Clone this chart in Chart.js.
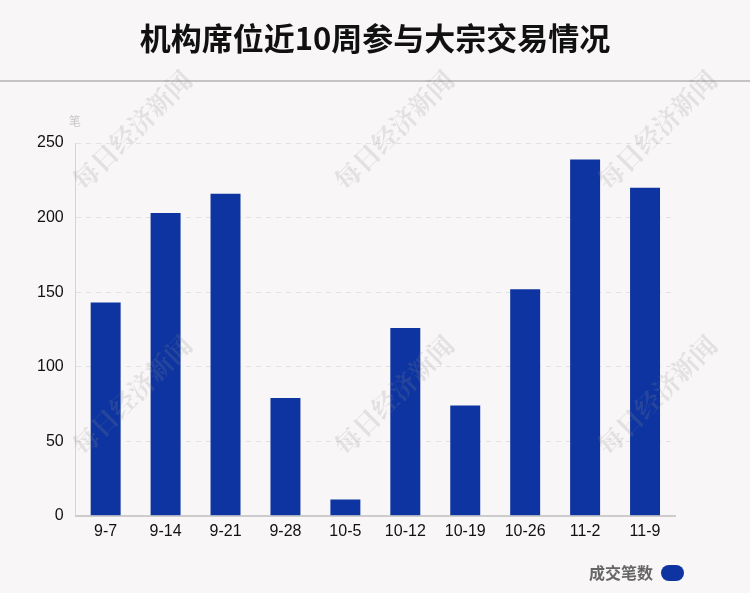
<!DOCTYPE html>
<html>
<head>
<meta charset="utf-8">
<script src="https://cdn.jsdelivr.net/npm/chart.js@4"></script>
<style>
  html, body { margin: 0; padding: 0; background: #f9f6f7; }
  #wrap { width: 750px; height: 593px; position: relative; }
</style>
</head>
<body>
<div id="wrap"><canvas id="barchart"></canvas></div>
<script>
(function() {
    "use strict";

    // data
    var weeks = ['9-7', '9-14', '9-21', '9-28', '10-5', '10-12', '10-19', '10-26', '11-2', '11-9'];
    var deals = [143, 203, 216, 79, 11, 126, 74, 152, 239, 220];
    var seriesName = '成交笔数';
    var chartTitle = '机构席位近10周参与大宗交易情况';
    var unitLabel = '笔';
    var watermark = '每日经济新闻';

    var cjk = '"Noto Sans CJK SC", sans-serif';
    var latin = '"Liberation Sans", Arial, sans-serif';

    // title, separator line, unit and watermarks
    var decor = {
        id: 'decor',
        beforeDraw: function(chart) {
            var ctx = chart.ctx;
            ctx.save();
            ctx.fillStyle = '#f9f6f7';
            ctx.fillRect(0, 0, chart.width, chart.height);

            ctx.fillStyle = '#111';
            ctx.font = 'bold 31px ' + cjk;
            ctx.textAlign = 'center';
            ctx.textBaseline = 'middle';
            ctx.fillText(chartTitle, 375, 38);

            ctx.strokeStyle = '#c4c4c4';
            ctx.lineWidth = 2;
            ctx.beginPath();
            ctx.moveTo(0, 81);
            ctx.lineTo(chart.width, 81);
            ctx.stroke();

            ctx.fillStyle = '#c8c8c8';
            ctx.font = '12px ' + cjk;
            ctx.textAlign = 'center';
            ctx.fillText(unitLabel, 75, 121);
            ctx.restore();
        },
        afterDatasetsDraw: function(chart) {
            var ctx = chart.ctx;
            var spots = [[132, 130], [394, 130], [657, 130], [132, 395], [394, 395], [657, 395]];
            ctx.save();
            ctx.fillStyle = 'rgba(140, 140, 140, 0.2)';
            ctx.font = 'bold 26px "Noto Serif CJK SC", ' + cjk;
            ctx.textAlign = 'center';
            ctx.textBaseline = 'middle';
            spots.forEach(function(p) {
                ctx.save();
                ctx.translate(p[0], p[1]);
                ctx.rotate(-Math.PI / 4);
                ctx.fillText(watermark, 0, 0);
                ctx.restore();
            });
            ctx.restore();
        }
    };

    new Chart(document.getElementById('barchart'), {
        type: 'bar',
        data: {
            labels: weeks,
            datasets: [{
                label: seriesName,
                data: deals,
                backgroundColor: '#0d34a0',
                barPercentage: 0.5,
                categoryPercentage: 1,
            }]
        },
        options: {
            responsive: true,
            maintainAspectRatio: false,
            animation: false,
            layout: {
                padding: { top: 143, right: 56, left: 25, bottom: 2 }
            },
            plugins: {
                legend: {
                    display: true,
                    position: 'bottom',
                    align: 'start',
                    rtl: true,
                    labels: {
                        boxWidth: 23,
                        boxHeight: 16,
                        useBorderRadius: true,
                        borderRadius: 8,
                        color: '#666',
                        padding: 10,
                        font: { family: cjk, size: 16, weight: 'bold' },
                    }
                },
                tooltip: { enabled: false },
            },
            scales: {
                x: {
                    grid: { display: false, drawTicks: false },
                    border: { color: '#cccccc', width: 2 },
                    ticks: { color: '#111', font: { family: latin, size: 16 }, padding: 6 },
                    afterFit: function(scale) { scale.height += 8; },
                },
                y: {
                    min: 0,
                    max: 250,
                    ticks: { stepSize: 50, color: '#111', font: { family: latin, size: 16 }, padding: 12 },
                    grid: { color: '#e2e2e2', drawTicks: false },
                    border: { color: '#d4d4d4', dash: [5, 5] },
                },
                // empty spacer so the plot stops short of the legend's right edge
                spacer: {
                    type: 'linear',
                    position: 'right',
                    grid: { display: false, drawTicks: false },
                    ticks: { display: false },
                    border: { display: false },
                    afterFit: function(scale) { scale.width = 19; },
                }
            }
        },
        plugins: [decor]
    });

})();
</script>
</body>
</html>
